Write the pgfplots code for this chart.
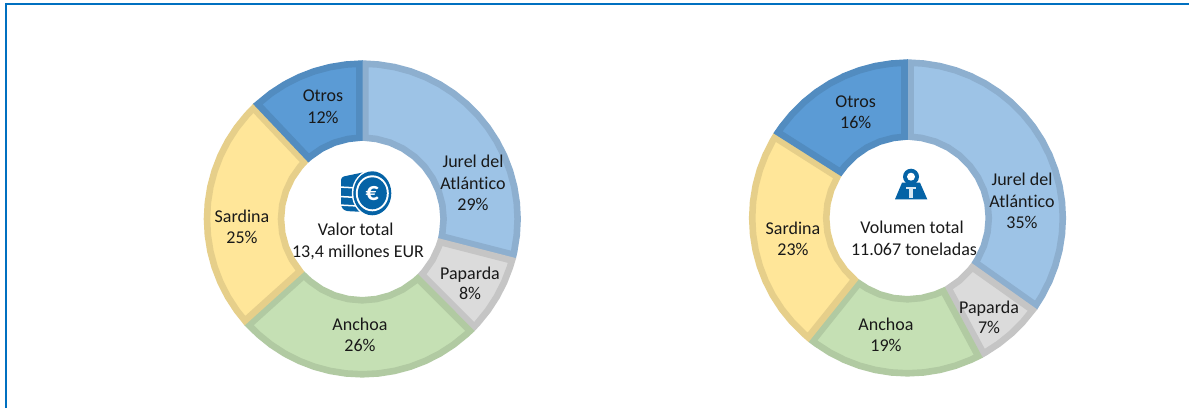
\documentclass[border=0pt]{standalone}
\usepackage{pgfplots}
\usepackage{fontspec}
\pgfplotsset{compat=1.18}
\usepgfplotslibrary{polar}
\setmainfont[Ligatures=NoCommon]{Carlito}
\definecolor{fJ}{HTML}{9DC3E6}\definecolor{bJ}{HTML}{8DAFCF}
\definecolor{fP}{HTML}{DBDBDB}\definecolor{bP}{HTML}{C5C5C5}
\definecolor{fA}{HTML}{C5E0B4}\definecolor{bA}{HTML}{B1CAA2}
\definecolor{fS}{HTML}{FFE699}\definecolor{bS}{HTML}{E6CF8A}
\definecolor{fO}{HTML}{5B9BD5}\definecolor{bO}{HTML}{528CC0}
\definecolor{frame}{HTML}{0070C0}
\definecolor{icon}{HTML}{0563A6}
\pgfplotsset{donut/.style={scale only axis,width=320pt,height=320pt,hide axis,clip=false,
  xmin=0,xmax=360,ymin=0,ymax=160,anchor=center},
  wedge/.style={line width=6.6pt,line join=miter,mark=none,solid}}
\newcommand{\lab}[3]{\node[anchor=base,inner sep=0pt,text=black!90,font=\fontsize{18}{20}\selectfont] at (#1,408-#2-0.8) {#3};}
\begin{document}
\begin{tikzpicture}[x=1pt,y=1pt]
\useasboundingbox (0,0) rectangle (1189,408);
\fill[white] (0,0) rectangle (1189,408);
\draw[frame,line width=2pt] (6,0) -- (6,404) -- (1189,404);
\begin{polaraxis}[donut,at={(362.3pt,189pt)}]
\addplot[wedge,draw=bJ,fill=fJ] coordinates {(88.9,155.3)(84,155.3)(78,155.3)(72,155.3)(66,155.3)(60,155.3)(54,155.3)(48,155.3)(42,155.3)(36,155.3)(30,155.3)(24,155.3)(18,155.3)(12,155.3)(6,155.3)(0,155.3)(-6,155.3)(-12,155.3)(-13.3,155.3)
 (-12.3,81.3)(-10,81.3)(0,81.3)(10,81.3)(20,81.3)(30,81.3)(40,81.3)(50,81.3)(60,81.3)(70,81.3)(80,81.3)(87.9,81.3)} -- cycle;
\addplot[wedge,draw=bP,fill=fP] coordinates {(-15.5,155.3)(-18,155.3)(-24,155.3)(-30,155.3)(-36,155.3)(-42,155.3)(-43.9,155.3)
 (-42.9,81.3)(-40,81.3)(-30,81.3)(-20,81.3)(-16.5,81.3)} -- cycle;
\addplot[wedge,draw=bA,fill=fA] coordinates {(-46.1,155.3)(-48,155.3)(-54,155.3)(-60,155.3)(-66,155.3)(-72,155.3)(-78,155.3)(-84,155.3)(-90,155.3)(-96,155.3)(-102,155.3)(-108,155.3)(-114,155.3)(-120,155.3)(-126,155.3)(-132,155.3)(-136.9,155.3)
 (-135.9,81.3)(-130,81.3)(-120,81.3)(-110,81.3)(-100,81.3)(-90,81.3)(-80,81.3)(-70,81.3)(-60,81.3)(-50,81.3)(-47.1,81.3)} -- cycle;
\addplot[wedge,draw=bS,fill=fS] coordinates {(-139.1,155.3)(-144,155.3)(-150,155.3)(-156,155.3)(-162,155.3)(-168,155.3)(-174,155.3)(-180,155.3)(-186,155.3)(-192,155.3)(-198,155.3)(-204,155.3)(-210,155.3)(-216,155.3)(-222,155.3)(-225.5,155.3)
 (-224.5,81.3)(-220,81.3)(-210,81.3)(-200,81.3)(-190,81.3)(-180,81.3)(-170,81.3)(-160,81.3)(-150,81.3)(-140.1,81.3)} -- cycle;
\addplot[wedge,draw=bO,fill=fO] coordinates {(-227.7,155.3)(-234,155.3)(-240,155.3)(-246,155.3)(-252,155.3)(-258,155.3)(-264,155.3)(-268.9,155.3)
 (-267.9,81.3)(-260,81.3)(-250,81.3)(-240,81.3)(-230,81.3)(-228.7,81.3)} -- cycle;
\end{polaraxis}
\begin{polaraxis}[donut,at={(907.5pt,190pt)}]
\addplot[wedge,draw=bJ,fill=fJ] coordinates {(88.9,155.3)(84,155.3)(78,155.3)(72,155.3)(66,155.3)(60,155.3)(54,155.3)(48,155.3)(42,155.3)(36,155.3)(30,155.3)(24,155.3)(18,155.3)(12,155.3)(6,155.3)(0,155.3)(-6,155.3)(-12,155.3)(-18,155.3)(-24,155.3)(-30,155.3)(-34.2,155.3)
 (-33.2,81.3)(-30,81.3)(-20,81.3)(-10,81.3)(0,81.3)(10,81.3)(20,81.3)(30,81.3)(40,81.3)(50,81.3)(60,81.3)(70,81.3)(80,81.3)(87.9,81.3)} -- cycle;
\addplot[wedge,draw=bP,fill=fP] coordinates {(-36.4,155.3)(-42,155.3)(-48,155.3)(-54,155.3)(-60,155.3)(-60.7,155.3)
 (-59.7,81.3)(-50,81.3)(-40,81.3)(-37.4,81.3)} -- cycle;
\addplot[wedge,draw=bA,fill=fA] coordinates {(-62.9,155.3)(-66,155.3)(-72,155.3)(-78,155.3)(-84,155.3)(-90,155.3)(-96,155.3)(-102,155.3)(-108,155.3)(-114,155.3)(-120,155.3)(-126,155.3)(-127.6,155.3)
 (-126.6,81.3)(-120,81.3)(-110,81.3)(-100,81.3)(-90,81.3)(-80,81.3)(-70,81.3)(-63.9,81.3)} -- cycle;
\addplot[wedge,draw=bS,fill=fS] coordinates {(-129.8,155.3)(-132,155.3)(-138,155.3)(-144,155.3)(-150,155.3)(-156,155.3)(-162,155.3)(-168,155.3)(-174,155.3)(-180,155.3)(-186,155.3)(-192,155.3)(-198,155.3)(-204,155.3)(-210,155.3)(-211.3,155.3)
 (-210.3,81.3)(-200,81.3)(-190,81.3)(-180,81.3)(-170,81.3)(-160,81.3)(-150,81.3)(-140,81.3)(-130.8,81.3)} -- cycle;
\addplot[wedge,draw=bO,fill=fO] coordinates {(-213.5,155.3)(-216,155.3)(-222,155.3)(-228,155.3)(-234,155.3)(-240,155.3)(-246,155.3)(-252,155.3)(-258,155.3)(-264,155.3)(-268.9,155.3)
 (-267.9,81.3)(-260,81.3)(-250,81.3)(-240,81.3)(-230,81.3)(-220,81.3)(-214.5,81.3)} -- cycle;
\end{polaraxis}
% labels left
\lab{323}{101}{Otros}\lab{323}{123}{12\%}
\lab{473}{167}{Jurel del}\lab{473}{189}{Atlántico}\lab{473}{210}{29\%}
\lab{470}{279}{Paparda}\lab{470}{299}{8\%}
\lab{360}{330}{Anchoa}\lab{360}{351}{26\%}
\lab{242}{222}{Sardina}\lab{242}{243}{25\%}
\lab{355.7}{235}{Valor total}\lab{358}{257}{13,4 millones EUR}
% labels right
\lab{855.7}{107}{Otros}\lab{855.7}{128}{16\%}
\lab{1022}{185}{Jurel del}\lab{1022}{207}{Atlántico}\lab{1022}{228}{35\%}
\lab{989}{313}{Paparda}\lab{989}{333}{7\%}
\lab{886}{330}{Anchoa}\lab{886}{351}{19\%}
\lab{793}{234}{Sardina}\lab{793}{255}{23\%}
\lab{912}{233}{Volumen total}\lab{914}{255}{11.067 toneladas}
% coin icon
\fill[icon,rounded corners=3pt] (341,408-177) -- (365,408-172) -- (365,408-212) -- (345,408-211) -- (341,408-207) -- cycle;
\draw[white,line width=1.5pt] (339,408-187) -- (358,408-188);
\draw[white,line width=1.5pt] (339,408-196.5) -- (358,408-197.5);
\draw[white,line width=1.5pt] (339,408-205) -- (358,408-206);
\fill[white] (372.3,408-193.3) ellipse (20.5 and 23.5);
\fill[icon] (372.3,408-193.3) ellipse (19 and 22);
\fill[white] (372.3,408-193.3) ellipse (16.5 and 18);
\fill[icon] (372.3,408-193.3) ellipse (14.5 and 16);
\node[text=white,inner sep=0pt,font=\fontsize{26}{26}\selectfont\bfseries] at (372.3,408-193.3) {€};
% weight icon
\fill[icon] (911,408-176.7) circle (8);
\fill[white] (911,408-176.7) circle (4);
\fill[icon] (902,408-182.7) -- (920,408-182.7) -- (927.3,408-199.3) -- (895,408-199.3) -- cycle;
\fill[white!85!icon] (906,408-186.7) rectangle (916,408-189.3);
\fill[white!85!icon] (909.3,408-186.7) rectangle (912.7,408-198);
\end{tikzpicture}
\end{document}
